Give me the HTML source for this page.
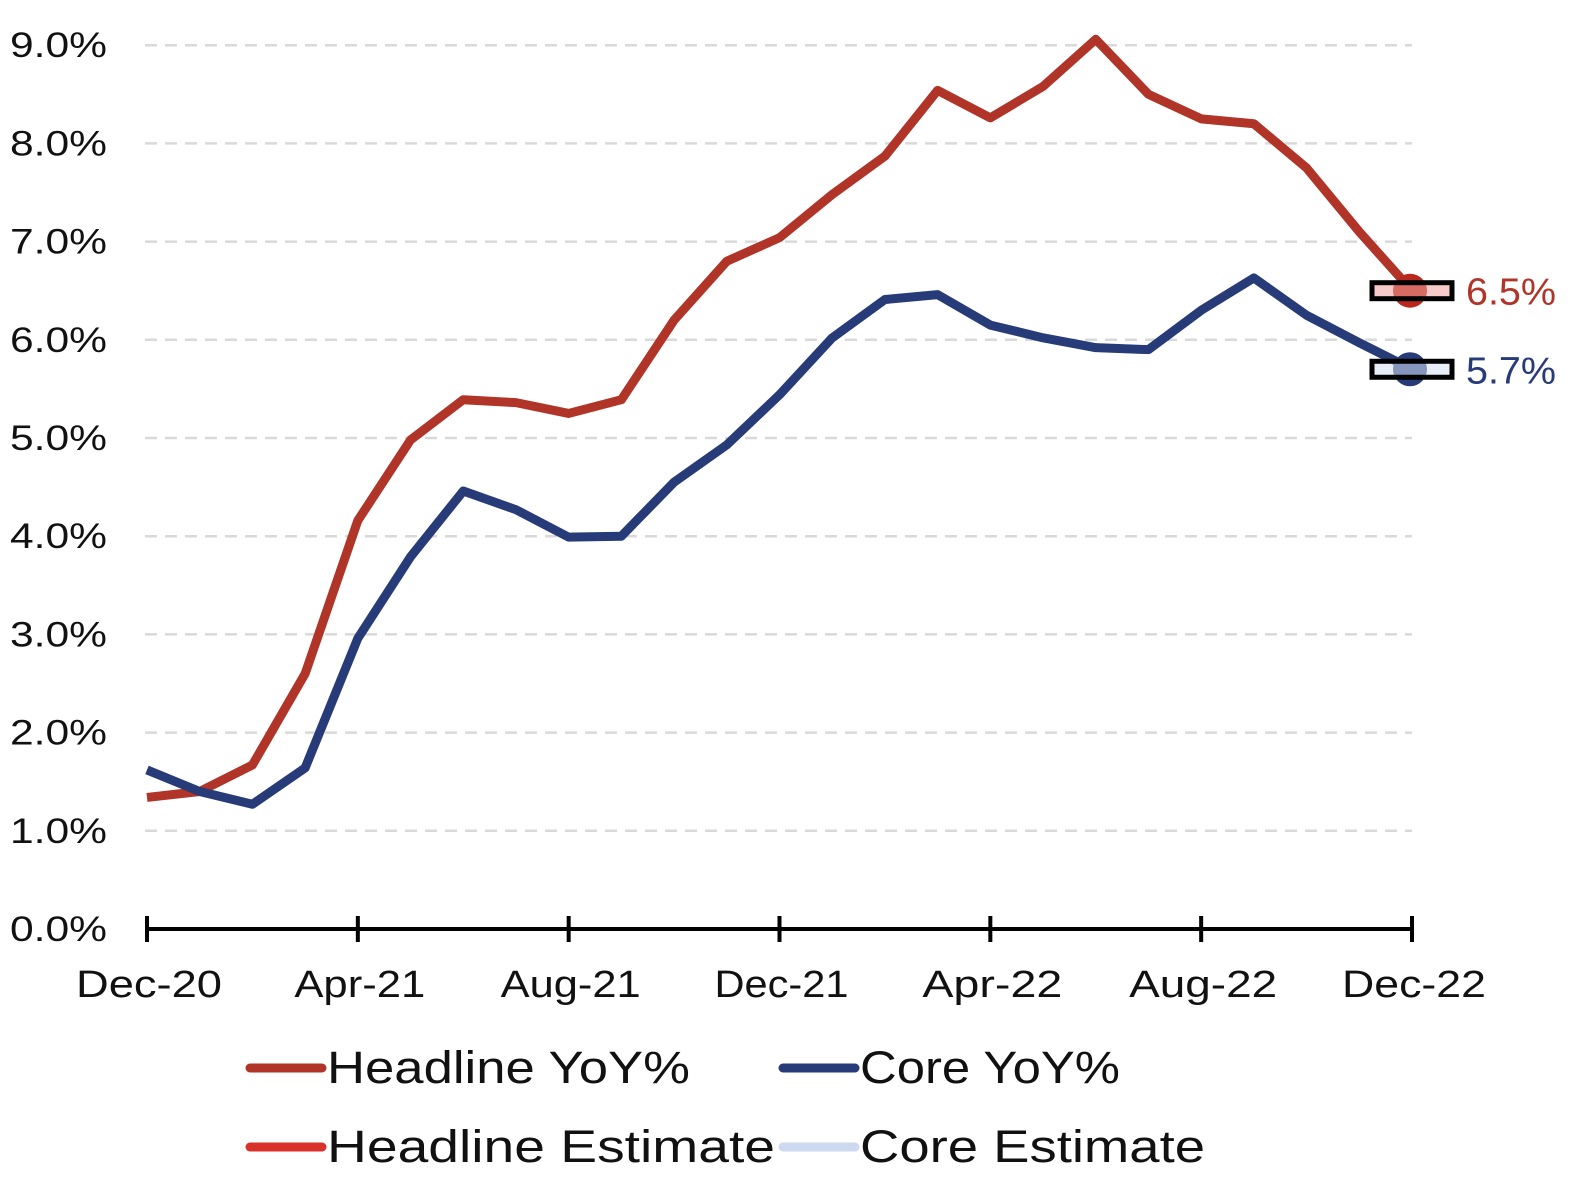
<!DOCTYPE html>
<html><head><meta charset="utf-8"><style>
html,body{margin:0;padding:0;background:#fff;}
svg text{font-family:"Liberation Sans",sans-serif;}
</style></head><body>
<svg id="chart" width="1570" height="1180">
<g id="grid"></g><g id="axis"></g><g id="series"></g><g id="legend"></g>
</svg>
<script>
const months = ["Dec-20","Jan-21","Feb-21","Mar-21","Apr-21","May-21","Jun-21","Jul-21","Aug-21","Sep-21","Oct-21","Nov-21","Dec-21","Jan-22","Feb-22","Mar-22","Apr-22","May-22","Jun-22","Jul-22","Aug-22","Sep-22","Oct-22","Nov-22","Dec-22"];
const headline = [1.34,1.4,1.67,2.6,4.16,4.98,5.39,5.36,5.25,5.39,6.2,6.8,7.04,7.48,7.87,8.54,8.26,8.58,9.06,8.5,8.25,8.2,7.75,7.1,6.5];
const core = [1.62,1.4,1.27,1.64,2.96,3.79,4.46,4.27,3.99,4.0,4.55,4.93,5.44,6.02,6.41,6.46,6.15,6.02,5.92,5.9,6.3,6.63,6.25,5.97,5.7];
const headlineEstimate = 6.5;
const coreEstimate = 5.7;
const yTicks = [0,1,2,3,4,5,6,7,8,9];
const xLabels = ["Dec-20","Apr-21","Aug-21","Dec-21","Apr-22","Aug-22","Dec-22"];
const NS="http://www.w3.org/2000/svg";
const x0=147,x1=1412,yBase=929,yPer=98.2;
const X=i=>x0+(x1-x0)*i/(months.length-1);
const Y=v=>yBase-v*yPer;
function mk(tag,attrs,parent,text){const e=document.createElementNS(NS,tag);for(const k in attrs)e.setAttribute(k,attrs[k]);if(text!==undefined)e.textContent=text;parent.appendChild(e);return e;}
const grid=document.getElementById('grid'),axis=document.getElementById('axis'),series=document.getElementById('series'),legend=document.getElementById('legend');
yTicks.forEach(v=>{
  if(v>0){const l=mk('line',{x1:145,x2:1412,y1:Y(v),y2:Y(v),stroke:'#d9d9d9','stroke-width':2.5,'stroke-dasharray':'12 8'},grid);
  
  }
  const t=mk('text',{x:107,y:Y(v)+12,'text-anchor':'end','font-size':35,fill:'#111',textLength:97,lengthAdjust:'spacingAndGlyphs'},axis,v.toFixed(1)+'%');
  
  
});
const ax=mk('line',{x1:x0,x2:x1,y1:yBase,y2:yBase,stroke:'#000','stroke-width':4},axis);


const xw=[146,131,140,134,140,148,144];
xLabels.forEach((lab,k)=>{
  const i=months.indexOf(lab);
  const tk=mk('line',{x1:X(i),x2:X(i),y1:yBase-13,y2:yBase+13,stroke:'#000','stroke-width':4},axis);
  
  
  const t=mk('text',{x:X(i)+2,y:997,'text-anchor':'middle','font-size':38,fill:'#111',textLength:xw[k],lengthAdjust:'spacingAndGlyphs'},axis,lab);
  
  
});
function line(vals,color,name){
  const p=mk('polyline',{points:vals.map((v,i)=>X(i)+','+Y(v)).join(' '),fill:'none',stroke:color,'stroke-width':9,'stroke-linejoin':'round'},series);
  
  
}
line(headline,'#b03427','headline-line');
line(core,'#263b78','core-line');
function est(v,dot,fill,tc,name){
  const n=months.length-1;
  const c=mk('circle',{cx:X(n)-2,cy:Y(v),r:17,fill:dot},series);
  
  
  const r=mk('rect',{x:1372,y:Y(v)-8,width:80,height:16,fill:fill,'fill-opacity':0.55,stroke:'#000','stroke-width':5},series);
  
  
  const t=mk('text',{x:1466,y:Y(v)+14,'font-size':38,fill:tc,textLength:90,lengthAdjust:'spacingAndGlyphs'},series,v.toFixed(1)+'%');
  
  
}
est(headlineEstimate,'#b8281e','#f0a09c','#b03427','headline-estimate');
est(coreEstimate,'#263b78','#d6e0f2','#263b78','core-estimate');
[["Headline YoY%",'#b03427',250,1068,363],["Core YoY%",'#263b78',783,1068,260],["Headline Estimate",'#d8322a',250,1147,448],["Core Estimate",'#cdd9ee',783,1147,345]].forEach(e=>{
  const l=mk('line',{x1:e[2],x2:e[2]+72,y1:e[3],y2:e[3],stroke:e[1],'stroke-width':9,'stroke-linecap':'round'},legend);
  
  
  const t=mk('text',{x:e[2]+77,y:e[3]+15,'font-size':45,fill:'#111',textLength:e[4],lengthAdjust:'spacingAndGlyphs'},legend,e[0]);
  
  
});
</script>
</body></html>
